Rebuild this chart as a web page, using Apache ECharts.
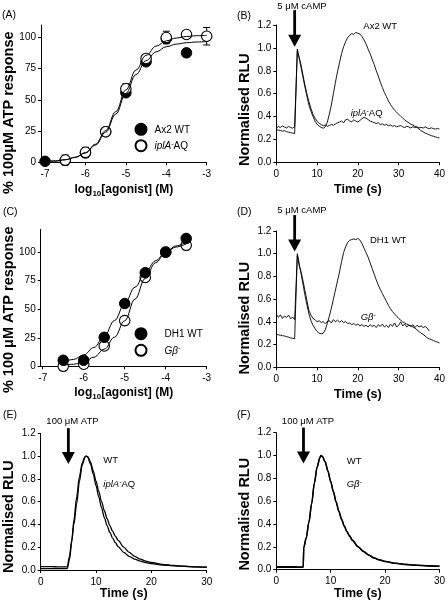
<!DOCTYPE html>
<html>
<head>
<meta charset="utf-8">
<script src="https://cdn.jsdelivr.net/npm/echarts@6.0.0/dist/echarts.min.js"></script>
<style>html,body{margin:0;padding:0;background:#fff;}#chart{width:448px;height:605px;}</style>
</head>
<body>
<div id="chart"></div>
<script>
// ---------------- DATA ----------------
const logDoseTicks = [-7, -6, -5, -4, -3];
const pctTicks = [0, 25, 50, 75, 100];

// Panel A : dose-response, Ax2 WT vs iplA- AQ
const logDoseA = [-7, -6.5, -6, -5.5, -5, -4.5, -4, -3.5, -3];
const ax2WT = [0.8, 1.5, 7.5, 24.5, 55.7, 80.5, 99, 87.7, null];
const ax2WTErr = [1, 1, 2, 2, 3, 2, 2, 3, null];
const iplAAQ = [null, 1.8, 8, 24.5, 58.9, 83.2, 100, 102.4, 101];
const iplAAQErr = [null, 4, 4, 3, 4, 2, 5, 2, 7];
const fitDoseA = [-7, -6.75, -6.5, -6.25, -6, -5.75, -5.5, -5.25, -5, -4.75, -4.5, -4.25, -4, -3.75, -3.5, -3.25, -3];
const ax2WTFit = [0.5, 1.0, 2.0, 3.9, 7.5, 13.8, 24.1, 38.6, 55.2, 70.3, 81.5, 88.5, 92.6, 94.7, 95.8, 96.4, 96.7];
const iplAAQFit = [0.5, 1.1, 2.1, 4.1, 7.8, 14.5, 25.4, 40.6, 58.0, 73.9, 85.7, 93.1, 97.3, 99.6, 100.8, 101.4, 101.7];

// Panel C : dose-response, DH1 WT vs Gbeta-
const logDoseC = [-6.5, -6, -5.5, -5, -4.5, -4, -3.5];
const dh1WT = [5.3, 5.3, 25.4, 55, 82, 100, 112];
const dh1WTErr = [1, 1, 1, 2, 3, 2, 2];
const gbNull = [0, 1.8, 17.8, 40, 77.8, 100, 106];
const gbNullErr = [1, 1, 2, 2, 2, 2, 2];
const fitDoseC = [-6.5, -6.25, -6, -5.75, -5.5, -5.25, -5, -4.75, -4.5, -4.25, -4, -3.75, -3.5];
const dh1WTFit = [3.5, 6.0, 10.0, 16.5, 26.5, 40.0, 55.0, 69.3, 82.0, 92.4, 100.1, 105.4, 109.0];
const gbNullFit = [0.9, 1.8, 3.7, 8.0, 15.0, 25.5, 39.9, 58.8, 76.9, 90.7, 99.5, 104.5, 107.2];

// Panels B, D : cAMP luminescence traces (time in s)
const campTime = [0,0.5,1,1.5,2,2.5,3,3.5,4,4.5,
  4.9,5.15,5.4,5.7,
  6,6.5,7,7.5,8,8.5,9,9.5,10,
  10.5,11,11.5,12,12.5,13,13.5,14,14.5,15,
  15.5,16,16.5,17,17.5,18,18.5,19,19.5,20,
  20.5,21,21.5,22,22.5,23,23.5,24,24.5,25,
  25.5,26,26.5,27,27.5,28,28.5,29,29.5,30,
  30.5,31,31.5,32,32.5,33,33.5,34,34.5,35,
  35.5,36,36.5,37,37.5,38,38.5,39,39.5,40];
const bAx2WT = [0.285,0.281,0.279,0.272,0.276,0.268,0.263,0.259,0.256,0.250,
  0.245,0.990,0.950,0.890,
  0.840,0.750,0.660,0.580,0.500,0.445,0.400,0.360,0.332,
  0.316,0.305,0.298,0.310,0.350,0.420,0.500,0.600,0.700,0.790,
  0.870,0.950,1.010,1.055,1.090,1.110,1.125,1.118,1.135,1.128,
  1.120,1.100,1.070,1.035,0.990,0.950,0.900,0.855,0.800,0.755,
  0.700,0.655,0.610,0.575,0.535,0.505,0.478,0.455,0.438,0.420,
  0.402,0.387,0.370,0.356,0.346,0.333,0.326,0.314,0.305,0.290,
  0.276,0.266,0.255,0.249,0.240,0.233,0.228,0.222,0.217,0.212];
const bIplA = [0.300,0.312,0.305,0.318,0.308,0.300,0.313,0.304,0.298,0.311,
  0.300,0.970,0.955,0.905,
  0.860,0.770,0.680,0.600,0.530,0.470,0.420,0.385,0.360,
  0.340,0.330,0.320,0.326,0.314,0.322,0.331,0.324,0.336,0.345,
  0.352,0.362,0.344,0.372,0.376,0.360,0.354,0.371,0.360,0.353,
  0.366,0.382,0.392,0.386,0.374,0.360,0.354,0.346,0.340,0.345,
  0.330,0.336,0.325,0.331,0.320,0.326,0.315,0.321,0.310,0.316,
  0.321,0.310,0.304,0.315,0.309,0.300,0.311,0.304,0.310,0.300,
  0.305,0.299,0.310,0.300,0.294,0.301,0.295,0.290,0.296,0.290];
const dDH1WT = [0.290,0.286,0.283,0.278,0.276,0.270,0.266,0.259,0.255,0.250,
  0.245,1.000,0.960,0.895,
  0.840,0.740,0.640,0.550,0.470,0.410,0.370,0.340,0.315,
  0.300,0.295,0.300,0.330,0.385,0.450,0.520,0.600,0.680,0.760,
  0.840,0.930,1.010,1.060,1.100,1.118,1.125,1.130,1.124,1.135,
  1.120,1.090,1.050,1.010,0.970,0.920,0.870,0.820,0.770,0.725,
  0.685,0.650,0.615,0.580,0.545,0.515,0.490,0.470,0.450,0.430,
  0.415,0.400,0.390,0.380,0.372,0.365,0.355,0.345,0.330,0.315,
  0.300,0.290,0.275,0.260,0.250,0.245,0.235,0.228,0.222,0.215];
const dGbNull = [0.470,0.440,0.462,0.430,0.452,0.438,0.460,0.428,0.442,0.420,
  0.410,0.980,0.935,0.880,
  0.850,0.770,0.680,0.590,0.500,0.460,0.430,0.420,0.400,
  0.410,0.395,0.402,0.385,0.400,0.412,0.390,0.420,0.400,0.415,
  0.398,0.410,0.395,0.402,0.385,0.390,0.375,0.386,0.370,0.380,
  0.365,0.376,0.360,0.370,0.355,0.375,0.360,0.370,0.350,0.375,
  0.360,0.380,0.355,0.370,0.350,0.380,0.360,0.390,0.355,0.370,
  0.400,0.365,0.380,0.355,0.370,0.360,0.375,0.350,0.370,0.355,
  0.365,0.350,0.360,0.345,0.320];

// Panels E, F : ATP responses
const atpTimeE = [0,1,2,3,4,4.8,5.2,5.6,6,6.5,7,7.5,8,8.2,8.5,9,9.5,10,10.5,11,11.5,12,12.5,13,13.5,14,15,16,17,18,19,20,22,24,26,28,30];
const eWT = [0.030,0.030,0.029,0.028,0.028,0.027,0.12,0.26,0.40,0.58,0.78,0.92,0.99,1.0,0.99,0.93,0.84,0.74,0.64,0.545,0.46,0.39,0.33,0.28,0.24,0.205,0.155,0.12,0.095,0.078,0.065,0.056,0.044,0.037,0.032,0.028,0.025];
const eIplA = [0.012,0.012,0.012,0.012,0.012,0.013,0.09,0.24,0.44,0.64,0.82,0.94,0.995,1.0,0.995,0.95,0.87,0.78,0.69,0.60,0.52,0.45,0.39,0.34,0.295,0.26,0.20,0.155,0.12,0.095,0.078,0.066,0.05,0.04,0.033,0.028,0.024];
const atpTimeF = [0,1,2,3,4,4.95,5.05,5.5,6,6.5,7,7.5,8,8.2,8.5,9,9.5,10,10.5,11,11.5,12,12.5,13,13.5,14,15,16,17,18,19,20,22,24,26,28,30];
const fWT = [0.027,0.027,0.026,0.026,0.025,0.025,0.20,0.28,0.42,0.58,0.76,0.90,0.98,1.0,0.99,0.94,0.86,0.77,0.68,0.59,0.51,0.44,0.38,0.33,0.29,0.255,0.20,0.16,0.127,0.102,0.085,0.072,0.055,0.045,0.038,0.033,0.030];
const fGbNull = [0.022,0.022,0.021,0.021,0.020,0.020,0.19,0.275,0.415,0.575,0.755,0.895,0.978,1.0,0.99,0.945,0.865,0.775,0.685,0.595,0.515,0.445,0.385,0.335,0.295,0.26,0.204,0.163,0.13,0.104,0.087,0.073,0.056,0.046,0.039,0.034,0.030];

// Stimulus arrows: [time, arrow top value, arrow tip value]
const arrowB = [[4.5, 1.33, 1.01]];
const arrowD = [[4.5, 1.34, 1.02]];
const arrowE = [[5.0, 1.245, 0.93]];
const arrowF = [[5.0, 1.245, 0.93]];

// ---------------- CHART ----------------
const FONT = '"Liberation Sans", Arial, Helvetica, sans-serif';
const pairs = (xs, ys) => xs.map((x, i) => [x, ys[i]]).filter(p => p[1] != null && p[1] !== undefined);
const triples = (xs, ys, es) => xs.map((x, i) => [x, ys[i], es[i]]).filter(p => p[1] != null);

const subRich = {
  a: {fontSize: 12, fontWeight: 'bold', fontFamily: FONT, color: '#000', lineHeight: 14, verticalAlign: 'top'},
  s: {fontSize: 8, fontWeight: 'bold', fontFamily: FONT, color: '#000', lineHeight: 6, verticalAlign: 'bottom'}
};
const legRich = {
  n: {fontSize: 10, fontFamily: FONT, color: '#000', lineHeight: 11, verticalAlign: 'bottom'},
  i: {fontSize: 10, fontFamily: FONT, fontStyle: 'italic', color: '#000', lineHeight: 11, verticalAlign: 'bottom'},
  s: {fontSize: 7, fontFamily: FONT, color: '#000', lineHeight: 6, verticalAlign: 'top'}
};
const annRich = {
  n: {fontSize: 9.5, fontFamily: FONT, color: '#000', lineHeight: 11, verticalAlign: 'bottom'},
  i: {fontSize: 9.5, fontFamily: FONT, fontStyle: 'italic', color: '#000', lineHeight: 11, verticalAlign: 'bottom'},
  s: {fontSize: 7, fontFamily: FONT, color: '#000', lineHeight: 6, verticalAlign: 'top'}
};

function xAxisCfg(gi, min, max, opts) {
  return Object.assign({
    gridIndex: gi, type: 'value', min: min, max: max,
    axisLine: {show: true, onZero: false, lineStyle: {color: '#000', width: 1}},
    axisTick: {show: true, length: 3, lineStyle: {color: '#000', width: 1}},
    axisLabel: {color: '#000', fontSize: 10, fontFamily: FONT, margin: 7},
    splitLine: {show: false},
    nameLocation: 'middle', nameMoveOverlap: false
  }, opts);
}
function yAxisCfg(gi, min, max, opts) {
  return Object.assign({
    gridIndex: gi, type: 'value', min: min, max: max,
    axisLine: {show: true, onZero: false, lineStyle: {color: '#000', width: 1}},
    axisTick: {show: true, length: 3, lineStyle: {color: '#000', width: 1}},
    axisLabel: {color: '#000', fontSize: 10, fontFamily: FONT, margin: 5},
    splitLine: {show: false},
    nameLocation: 'middle', nameMoveOverlap: false
  }, opts);
}
function yName(text, size, gap, shift) {
  return {name: text, nameGap: gap,
    nameTextStyle: {fontSize: size, fontWeight: 'bold', fontFamily: FONT, color: '#000', padding: [0, shift * 2, 0, 0]}};
}
const timeName = (gap) => ({name: 'Time (s)', nameGap: gap,
  nameTextStyle: {fontSize: 12.5, fontWeight: 'bold', fontFamily: FONT, color: '#000'}});
const doseName = (gap) => ({name: '{a|log}{s|10}{a|[agonist] (M)}', nameGap: gap,
  nameTextStyle: {rich: subRich}});

const fmt1 = v => v.toFixed(1);

const xAxes = [
  xAxisCfg(0, -7.1, -3, Object.assign({axisTick: {show: true, length: 3, lineStyle: {color: '#000'}, customValues: logDoseTicks},
    axisLabel: {color: '#000', fontSize: 10, fontFamily: FONT, margin: 7, customValues: logDoseTicks}}, doseName(21))),
  xAxisCfg(1, 0, 40, Object.assign({interval: 10}, timeName(21))),
  xAxisCfg(2, -7.05, -3, Object.assign({axisTick: {show: true, length: 3, lineStyle: {color: '#000'}, customValues: logDoseTicks},
    axisLabel: {color: '#000', fontSize: 10, fontFamily: FONT, margin: 7, customValues: logDoseTicks}}, doseName(20))),
  xAxisCfg(3, 0, 40, Object.assign({interval: 10}, timeName(21))),
  xAxisCfg(4, 0, 30, Object.assign({interval: 10}, timeName(17))),
  xAxisCfg(5, 0, 30, Object.assign({interval: 10}, timeName(17)))
];
const yAxes = [
  yAxisCfg(0, 0, 110, Object.assign({axisTick: {show: true, length: 3, lineStyle: {color: '#000'}, customValues: pctTicks},
    axisLabel: {color: '#000', fontSize: 10, fontFamily: FONT, margin: 5, customValues: pctTicks}}, yName('% 100\u03bcM ATP response', 14.5, 25, 19))),
  yAxisCfg(1, 0, 1.2, Object.assign({interval: 0.2, axisLabel: {color: '#000', fontSize: 10, fontFamily: FONT, margin: 5, formatter: fmt1}}, yName('Normalised RLU', 14.5, 23.5, 16))),
  yAxisCfg(2, 0, 120, Object.assign({axisTick: {show: true, length: 3, lineStyle: {color: '#000'}, customValues: pctTicks},
    axisLabel: {color: '#000', fontSize: 10, fontFamily: FONT, margin: 5, customValues: pctTicks}}, yName('% 100 \u03bcM ATP response', 14.5, 24.5, 12))),
  yAxisCfg(3, 0, 1.2, Object.assign({interval: 0.2, axisLabel: {color: '#000', fontSize: 10, fontFamily: FONT, margin: 5, formatter: fmt1}}, yName('Normalised RLU', 14.5, 23.5, 19))),
  yAxisCfg(4, 0, 1.2, Object.assign({interval: 0.2, axisLabel: {color: '#000', fontSize: 10, fontFamily: FONT, margin: 5, formatter: fmt1}}, yName('Normalised RLU', 14.5, 24.5, 15))),
  yAxisCfg(5, 0, 1.2, Object.assign({interval: 0.2, axisLabel: {color: '#000', fontSize: 10, fontFamily: FONT, margin: 5, formatter: fmt1}}, yName('Normalised RLU', 14.5, 23.5, 13)))
];

const grids = [
  {left: 40.7, top: 25, width: 166, height: 137.3},
  {left: 276.3, top: 25, width: 166, height: 137.3},
  {left: 40.7, top: 229.3, width: 166, height: 137},
  {left: 276.3, top: 231, width: 166, height: 136.3},
  {left: 40.7, top: 433.3, width: 166, height: 136.7},
  {left: 276.3, top: 432.7, width: 166, height: 137}
];

function lineSeries(name, gi, data, width, smooth) {
  return {type: 'line', name: name, xAxisIndex: gi, yAxisIndex: gi, data: data,
    showSymbol: false, symbol: 'none', smooth: smooth, smoothMonotone: 'x',
    lineStyle: {color: '#000', width: width}, itemStyle: {color: '#000'}, silent: true, animation: false};
}
function errSeries(gi, data) {
  return {type: 'custom', xAxisIndex: gi, yAxisIndex: gi, data: data, encode: {x: 0, y: 1}, silent: true,
    renderItem: function (params, api) {
      const x = api.value(0), y = api.value(1), e = api.value(2);
      const t = api.coord([x, y + e]), b = api.coord([x, y - e]);
      const st = {stroke: '#000', lineWidth: 1, fill: null};
      return {type: 'group', children: [
        {type: 'line', shape: {x1: t[0], y1: t[1], x2: b[0], y2: b[1]}, style: st},
        {type: 'line', shape: {x1: t[0] - 3.5, y1: t[1], x2: t[0] + 3.5, y2: t[1]}, style: st},
        {type: 'line', shape: {x1: b[0] - 3.5, y1: b[1], x2: b[0] + 3.5, y2: b[1]}, style: st}
      ]};
    }};
}
function scatterSeries(name, gi, data, filled) {
  return {type: 'scatter', name: name, xAxisIndex: gi, yAxisIndex: gi, data: data, symbol: 'circle', symbolSize: 10.5,
    itemStyle: filled ? {color: '#000', borderColor: '#000', borderWidth: 1, opacity: 1}
                      : {color: '#fff', borderColor: '#000', borderWidth: 1.1, opacity: 1},
    emphasis: {disabled: true}, silent: true};
}
function arrowSeries(gi, data) {
  return {type: 'custom', xAxisIndex: gi, yAxisIndex: gi, data: data, encode: {x: 0, y: [1, 2]}, silent: true, clip: false,
    renderItem: function (params, api) {
      const x = api.value(0);
      const p1 = api.coord([x, api.value(1)]), p2 = api.coord([x, api.value(2)]);
      const hl = 12, hw = 6.5, sw = 2.8;
      return {type: 'group', children: [
        {type: 'rect', shape: {x: p1[0] - sw / 2, y: p1[1], width: sw, height: (p2[1] - hl) - p1[1] + 0.5}, style: {fill: '#000'}},
        {type: 'polygon', shape: {points: [[p2[0] - hw, p2[1] - hl], [p2[0] + hw, p2[1] - hl], [p2[0], p2[1]]]}, style: {fill: '#000'}}
      ]};
    }};
}

const series = [
  // A
  lineSeries('Ax2 WT fit', 0, pairs(fitDoseA, ax2WTFit), 1, 0.4),
  lineSeries('iplA fit', 0, pairs(fitDoseA, iplAAQFit), 1, 0.4),
  errSeries(0, triples(logDoseA, ax2WT, ax2WTErr)),
  errSeries(0, triples(logDoseA, iplAAQ, iplAAQErr)),
  scatterSeries('Ax2 WT', 0, pairs(logDoseA, ax2WT), true),
  scatterSeries('iplA-AQ', 0, pairs(logDoseA, iplAAQ), false),
  // B
  lineSeries('B Ax2 WT', 1, pairs(campTime, bAx2WT), 0.9, false),
  lineSeries('B iplA', 1, pairs(campTime, bIplA), 0.9, false),
  arrowSeries(1, arrowB),
  // C
  lineSeries('DH1 fit', 2, pairs(fitDoseC, dh1WTFit), 1, 0.4),
  lineSeries('Gb fit', 2, pairs(fitDoseC, gbNullFit), 1, 0.4),
  errSeries(2, triples(logDoseC, gbNull, gbNullErr)),
  errSeries(2, triples(logDoseC, dh1WT, dh1WTErr)),
  scatterSeries('Gb-', 2, pairs(logDoseC, gbNull), false),
  scatterSeries('DH1 WT', 2, pairs(logDoseC, dh1WT), true),
  // D
  lineSeries('D DH1 WT', 3, pairs(campTime, dDH1WT), 0.9, false),
  lineSeries('D Gb', 3, pairs(campTime, dGbNull), 0.9, false),
  arrowSeries(3, arrowD),
  // E
  lineSeries('E WT', 4, pairs(atpTimeE, eWT), 1.3, 0.3),
  lineSeries('E iplA', 4, pairs(atpTimeE, eIplA), 1.3, 0.3),
  arrowSeries(4, arrowE),
  // F
  lineSeries('F WT', 5, pairs(atpTimeF, fWT), 1.4, 0.3),
  lineSeries('F Gb', 5, pairs(atpTimeF, fGbNull), 1.4, 0.3),
  arrowSeries(5, arrowF)
];

const legFmt = function (name) {
  if (name === 'iplA-AQ') return '{i|iplA}{s|-}{n|AQ}';
  if (name === 'Gb-') return '{i|G\u03b2}{s|-}';
  return '{n|' + name + '}';
};
const legends = [
  {left: 134.5, top: 122.8, orient: 'vertical', padding: 0, itemWidth: 11, itemHeight: 11, itemGap: 3.4,
    selectedMode: false, data: ['Ax2 WT', 'iplA-AQ'], formatter: legFmt,
    itemStyle: {opacity: 1},
    textStyle: {rich: legRich, fontSize: 10, color: '#000', padding: [0, 0, 0, 3]}},
  {left: 134.5, top: 327.2, orient: 'vertical', padding: 0, itemWidth: 11, itemHeight: 11, itemGap: 3.6,
    selectedMode: false, data: ['DH1 WT', 'Gb-'], formatter: legFmt,
    itemStyle: {opacity: 1},
    textStyle: {rich: legRich, fontSize: 10, color: '#000', padding: [0, 0, 0, 13]}}
];

function txt(x, y, text, size, align, rich) {
  const st = {text: text, x: x, y: y, fill: '#000', font: size + 'px ' + FONT,
    align: align || 'left', textAlign: align || 'left', verticalAlign: 'middle', textVerticalAlign: 'middle'};
  if (rich) st.rich = rich;
  return {type: 'text', silent: true, style: st};
}
const graphics = [
  txt(2, 15, '(A)', 10.5), txt(237, 15.7, '(B)', 10.5), txt(3, 212, '(C)', 10.5),
  txt(237, 212.5, '(D)', 10.5), txt(3, 415, '(E)', 10.5), txt(237, 415, '(F)', 10.5),
  txt(302, 6, '5 \u03bcM cAMP', 9.5, 'center'),
  txt(302, 210.7, '5 \u03bcM cAMP', 9.5, 'center'),
  txt(72.5, 421.7, '100 \u03bcM ATP', 9.5, 'center'),
  txt(308, 421.7, '100 \u03bcM ATP', 9.5, 'center'),
  txt(363.3, 26.7, 'Ax2 WT', 9.5),
  txt(350.7, 113.3, '{i|iplA}{s|-}{n|AQ}', 9.5, 'left', annRich),
  txt(370, 240.7, 'DH1 WT', 9.5),
  txt(360.7, 317.3, '{i|G\u03b2}{s|-}', 9.5, 'left', annRich),
  txt(103.3, 460.7, 'WT', 9.5),
  txt(103.3, 484.3, '{i|iplA}{s|-}{n|AQ}', 9.5, 'left', annRich),
  txt(346.7, 461, 'WT', 9.5),
  txt(346.7, 484.3, '{i|G\u03b2}{s|-}', 9.5, 'left', annRich)
];

const chart = echarts.init(document.getElementById('chart'), null, {renderer: 'canvas'});
chart.setOption({
  animation: false,
  backgroundColor: '#fff',
  textStyle: {fontFamily: FONT},
  grid: grids,
  xAxis: xAxes,
  yAxis: yAxes,
  legend: legends,
  series: series,
  graphic: graphics
});
</script>
</body>
</html>
